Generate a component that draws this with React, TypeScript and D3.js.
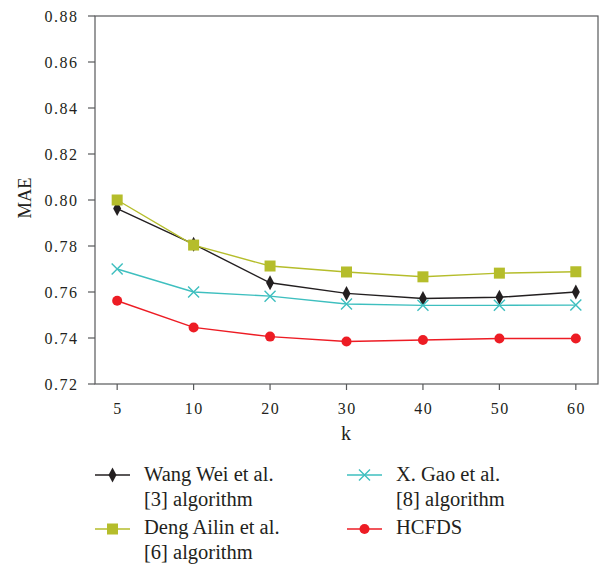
import React from "react";
import * as d3 from "d3";

const categories = ["5", "10", "20", "30", "40", "50", "60"];
const yTicks = [0.72, 0.74, 0.76, 0.78, 0.8, 0.82, 0.84, 0.86, 0.88];
const wangWei = [0.7963, 0.7808, 0.764, 0.7594, 0.7572, 0.7577, 0.76];
const dengAilin = [0.8, 0.7804, 0.7713, 0.7687, 0.7666, 0.7682, 0.7688];
const xGao = [0.77, 0.76, 0.7582, 0.7548, 0.7542, 0.7542, 0.7543];
const hcfds = [0.7562, 0.7446, 0.7406, 0.7385, 0.7391, 0.7398, 0.7398];

const seriesNames = [
  ["Wang Wei et al.", "[3] algorithm"],
  ["Deng Ailin et al.", "[6] algorithm"],
  ["X. Gao et al.", "[8] algorithm"],
  ["HCFDS"],
];

const W = 603, H = 567;
const L = 95, R = 598, T = 16, B = 384;
const font = "Liberation Serif";

type Marker = "diamond" | "square" | "cross" | "circle";

function MarkerShape({ type, x, y, color }: { type: Marker; x: number; y: number; color: string }) {
  if (type === "diamond") {
    return <path d={`M${x},${y - 7.5} L${x + 4},${y} L${x},${y + 7.5} L${x - 4},${y} Z`} fill={color} />;
  }
  if (type === "square") {
    return <rect x={x - 5.5} y={y - 5.5} width={11} height={11} fill={color} />;
  }
  if (type === "cross") {
    const s = 5.5;
    return (
      <path d={`M${x - s},${y - s} L${x + s},${y + s} M${x - s},${y + s} L${x + s},${y - s}`} stroke={color} strokeWidth={1.4} fill="none" />
    );
  }
  return <circle cx={x} cy={y} r={5} fill={color} />;
}

export default function App() {
  const x = d3.scalePoint<string>().domain(categories).range([L, R]).padding(0.29);
  const y = d3.scaleLinear().domain([0.72, 0.88]).range([B, T]);
  const series: { data: number[]; color: string; marker: Marker }[] = [
    { data: wangWei, color: "#231f20", marker: "diamond" },
    { data: dengAilin, color: "#b5bd2b", marker: "square" },
    { data: xGao, color: "#3ebfbf", marker: "cross" },
    { data: hcfds, color: "#ed1c24", marker: "circle" },
  ];
  const line = d3
    .line<number>()
    .x((_, i) => x(categories[i]) as number)
    .y((d) => y(d));
  const axisColor = "#58595b";

  const legendPos = [
    { lx: 95, ty: 475, base: 481 },
    { lx: 95, ty: 529, base: 534 },
    { lx: 347, ty: 475, base: 481 },
    { lx: 347, ty: 529, base: 534 },
  ];

  return (
    <svg width={W} height={H} style={{ display: "block", position: "absolute", left: 0, top: 0 }} fontFamily={font}>
      <rect width={W} height={H} fill="#fff" />
      <rect x={L} y={T} width={R - L} height={B - T} fill="none" stroke={axisColor} strokeWidth={1.2} />
      {yTicks.map((t) => (
        <g key={t}>
          <line x1={L - 7} x2={L} y1={y(t)} y2={y(t)} stroke={axisColor} strokeWidth={1.2} />
          <text x={78.5} y={y(t) + 5.6} textAnchor="end" fontSize={16} letterSpacing={1.5} fill="#231f20">
            {t.toFixed(2)}
          </text>
        </g>
      ))}
      {categories.map((c) => (
        <g key={c}>
          <line x1={x(c)} x2={x(c)} y1={B} y2={B + 6} stroke={axisColor} strokeWidth={1.2} />
          <text x={(x(c) as number) + 0.75} y={414} textAnchor="middle" fontSize={16} letterSpacing={1.5} fill="#231f20">
            {c}
          </text>
        </g>
      ))}
      <text x={346} y={440} textAnchor="middle" fontSize={20} fill="#231f20">k</text>
      <text transform={`translate(30.7,198) rotate(-90)`} textAnchor="middle" fontSize={18.5} fill="#231f20">
        MAE
      </text>
      {series.map((s, si) => (
        <g key={si}>
          <path d={line(s.data) || ""} fill="none" stroke={s.color} strokeWidth={1.4} />
          {s.data.map((v, i) => (
            <MarkerShape key={i} type={s.marker} x={x(categories[i]) as number} y={y(v)} color={s.color} />
          ))}
        </g>
      ))}
      {series.map((s, si) => {
        const p = legendPos[si];
        return (
          <g key={si}>
            <line x1={p.lx} x2={p.lx + 35} y1={p.ty} y2={p.ty} stroke={s.color} strokeWidth={1.4} />
            <MarkerShape type={s.marker} x={p.lx + 17.5} y={p.ty} color={s.color} />
            {seriesNames[si].map((t, ti) => (
              <text key={ti} x={p.lx + 49} y={p.base + ti * 24.5} fontSize={20.5} fill="#231f20">
                {t}
              </text>
            ))}
          </g>
        );
      })}
    </svg>
  );
}
